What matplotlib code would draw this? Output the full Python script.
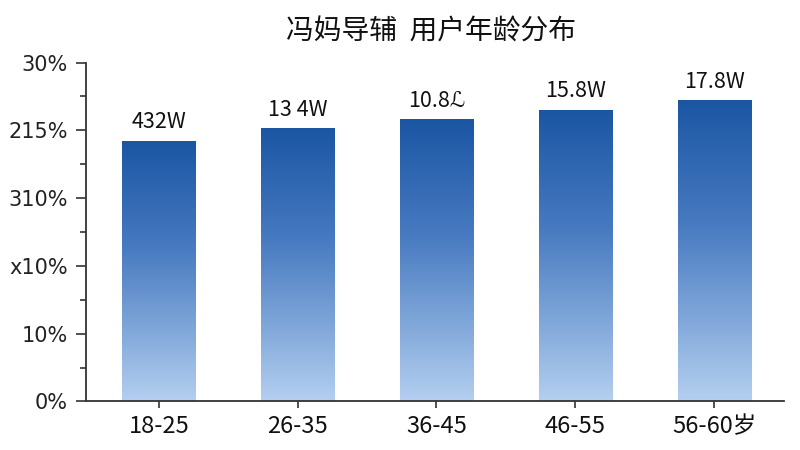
import matplotlib
matplotlib.use("Agg")
import matplotlib.pyplot as plt
import numpy as np
from matplotlib.colors import LinearSegmentedColormap
from matplotlib.ticker import FixedLocator

categories = ["18-25", "26-35", "36-45", "46-55", "56-60岁"]
values = [23.0, 24.1, 24.9, 25.75, 26.6]
bar_labels = ["432W", "13 4W", "10.8ℒ", "15.8W", "17.8W"]
ytick_values = [0, 6, 12, 18, 24, 30]
ytick_labels = ["0%", "10%", "x10%", "310%", "215%", "30%"]
title = "冯妈导辅  用户年龄分布"

plt.rcParams['font.family'] = ['Noto Sans CJK SC', 'DejaVu Sans']

fig = plt.figure(figsize=(8, 4.5), dpi=100)
ax = fig.add_axes([0.107, 0.108, 0.873, 0.753])

cmap = LinearSegmentedColormap.from_list(
    "g", [(0.0, "#b4cff0"), (0.3, "#7ba3d7"), (0.6, "#4679c0"), (1.0, "#1b56a3")])
grad = np.linspace(0, 1, 256).reshape(-1, 1)

x = np.arange(len(categories))
width = 0.526
bars = ax.bar(x, values, width=width, color="none", edgecolor="none")
for b, lab in zip(bars, bar_labels):
    x0, w, h = b.get_x(), b.get_width(), b.get_height()
    ax.imshow(grad, extent=(x0, x0 + w, 0, h), origin="lower", cmap=cmap,
              aspect="auto", zorder=2, interpolation="bicubic")
    ax.annotate(lab, (x0 + w / 2, h), xytext=(0, 6), textcoords="offset points",
                ha="center", va="bottom", fontsize=15.5, color="#111111")

ax.set_xlim(-0.528, 4.504)
ax.set_ylim(0, 30)
ax.set_xticks(x)
ax.set_xticklabels(categories, fontsize=17, color="#111111")
ax.yaxis.set_major_locator(FixedLocator(ytick_values))
ax.yaxis.set_minor_locator(FixedLocator([3, 9, 15, 21, 27]))
ax.set_yticklabels(ytick_labels, fontsize=15, color="#222222",
                   family=['DejaVu Sans'])
ax.tick_params(axis="y", which="major", length=7, width=1.2, color="#333333", pad=6)
ax.tick_params(axis="y", which="minor", length=4, width=1.2, color="#333333")
ax.tick_params(axis="x", length=5, width=1.2, color="#333333", pad=5)

for s in ["top", "right"]:
    ax.spines[s].set_visible(False)
ax.spines["left"].set_linewidth(1.3)
ax.spines["bottom"].set_linewidth(1.3)
ax.spines["left"].set_color("#333333")
ax.spines["bottom"].set_color("#333333")

fig.text(0.539, 0.93, title, ha="center", va="center", fontsize=20, color="#111111")

fig.savefig("out.png", dpi=100)
